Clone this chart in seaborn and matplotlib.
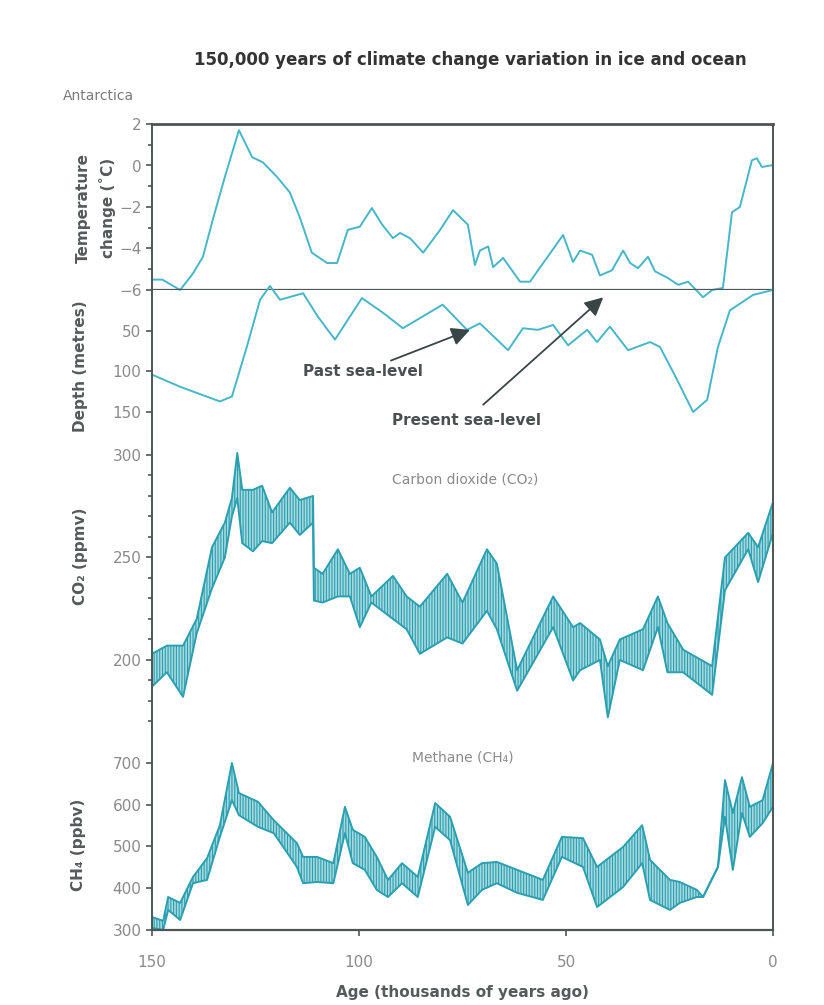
import matplotlib
matplotlib.use("Agg")
import matplotlib.pyplot as plt
import seaborn as sns
import numpy as np

# ---------------- data ----------------
temp_age = [150, 147.5, 143.2, 140.1, 137.7, 135.3, 132.4, 129.0, 125.8, 123.2, 119.8, 116.7, 114.3,
            111.4, 107.7, 105.3, 102.7, 99.8, 96.9, 94.4, 91.8, 90.1, 87.7, 84.5, 80.4, 77.3, 73.7,
            72.0, 70.8, 68.8, 67.6, 65.2, 61.1, 58.7, 50.7, 48.3, 46.6, 43.7, 41.8, 38.9, 36.2, 34.5,
            32.6, 30.2, 28.5, 25.6, 22.9, 20.5, 16.9, 14.7, 12.1, 9.9, 8.0, 5.1, 3.9, 2.7, 0]
temp_val = [-5.5, -5.5, -6.0, -5.2, -4.4, -2.6, -0.55, 1.7, 0.4, 0.15, -0.55, -1.3, -2.5,
            -4.2, -4.7, -4.7, -3.1, -2.95, -2.05, -2.85, -3.5, -3.25, -3.5, -4.2, -3.1, -2.15, -2.85,
            -4.8, -4.1, -3.9, -4.9, -4.45, -5.6, -5.6, -3.35, -4.65, -4.1, -4.3, -5.3, -5.05, -4.1, -4.7,
            -4.95, -4.4, -5.1, -5.4, -5.75, -5.6, -6.35, -6.0, -5.9, -2.25, -2.0, 0.25, 0.35, -0.07, 0.02]

sea_age = [150, 143.2, 133.6, 130.7, 127.1, 123.9, 121.5, 119.1, 113.5, 109.9, 105.8, 99.3, 94.2,
           89.4, 79.8, 73.9, 70.8, 64.0, 60.4, 56.8, 53.1, 49.5, 44.9, 42.5, 39.4, 35.0, 29.7,
           27.3, 23.2, 19.3, 15.9, 13.3, 10.4, 4.8, 0]
sea_depth = [104, 119, 137, 131, 70, 12, -5, 12, 4, 33, 61, 10, 28,
             47, 18, 49, 41, 74, 47, 49, 43, 68, 49, 64, 45, 74, 64,
             70, 110, 150, 135, 70, 25, 6, 0]

co2_age = [150, 146.4, 142.5, 139.2, 135.5, 132.4, 130.7, 129.4, 128.2, 125.6, 123.4, 121.0, 116.7,
           114.3, 111.1, 110.9, 108.8, 105.1, 102.2, 99.8, 97.0, 91.8, 88.5, 85.3, 78.7, 75.0, 69.1,
           66.7, 61.8, 53.1, 48.3, 46.6, 41.8, 39.9, 37.0, 31.4, 27.8, 25.5, 21.7, 14.7, 11.6, 6.0,
           3.6, 0]
co2_upper = [203, 207, 207, 220, 255, 267, 279, 301, 283, 283, 285, 272, 284,
             278, 280, 245, 242, 254, 242, 245, 231, 241, 231, 226, 242, 228, 254,
             247, 195, 231, 216, 218, 210, 197, 210, 215, 231, 218, 205, 197, 250, 262,
             255, 277]
co2_lower = [187, 194, 182, 213, 235, 250, 270, 279, 257, 253, 258, 257, 267,
             261, 267, 229, 228, 231, 231, 216, 228, 220, 215, 203, 211, 208, 224,
             215, 185, 216, 190, 195, 200, 172, 200, 195, 216, 194, 194, 183, 234, 254,
             238, 262]

ch4_age = [150, 147.3, 146.1, 143.2, 140.1, 136.7, 133.6, 130.7, 129.0, 124.4, 120.6, 115.0, 113.5,
           110.1, 106.2, 103.4, 101.5, 98.6, 95.7, 93.0, 89.6, 85.8, 81.6, 78.0, 73.7, 70.3, 66.7,
           61.8, 55.6, 51.0, 45.9, 42.5, 36.2, 31.6, 29.7, 24.9, 22.5, 18.4, 16.9, 13.3, 11.6, 9.7,
           7.5, 5.6, 2.5, 0]
ch4_upper = [331, 322, 379, 365, 427, 472, 551, 700, 628, 607, 563, 508, 475,
             475, 460, 595, 540, 523, 475, 420, 460, 427, 604, 571, 437, 460, 463,
             444, 420, 523, 520, 451, 499, 551, 468, 420, 415, 396, 379, 451, 659, 580,
             666, 595, 611, 700]
ch4_lower = [305, 300, 348, 324, 412, 420, 523, 611, 575, 547, 532, 451, 412,
             415, 412, 532, 460, 444, 396, 379, 412, 379, 547, 515, 360, 396, 412,
             389, 372, 475, 451, 355, 403, 460, 372, 348, 365, 379, 379, 451, 571, 444,
             580, 523, 556, 595]

x_ticks = [150, 100, 50, 0]
temp_ticks = [2, 0, -2, -4, -6]
depth_ticks = [50, 100, 150]
co2_ticks = [200, 250, 300]
ch4_ticks = [300, 400, 500, 600, 700]

# ---------------- style ----------------
sns.set_style("white")
plt.rcParams['font.family'] = ['DejaVu Sans']
plt.rcParams['hatch.linewidth'] = 0.8

LINE = '#45b7c8'
BAND_FACE = '#a6d9df'
BAND_EDGE = '#2a9fb0'
SPINE = '#4d5555'
TICKC = '#8a8a8a'
LABC = '#555a5a'

W, H = 824, 1005
fig = plt.figure(figsize=(W / 100, H / 100), dpi=100)

def box(top, bot):
    return [152 / W, (H - bot) / H, 621 / W, (bot - top) / H]

ax_t = fig.add_axes(box(124, 290))
ax_d = fig.add_axes(box(290, 440))
ax_c = fig.add_axes(box(440, 735))
ax_m = fig.add_axes(box(735, 930))
axes = [ax_t, ax_d, ax_c, ax_m]

# Temperature
sns.lineplot(x=temp_age, y=temp_val, ax=ax_t, color=LINE, lw=1.4, sort=False, clip_on=False)
ax_t.axhline(-6, color=SPINE, lw=1.6, zorder=3)

# Sea level (depth)
sns.lineplot(x=sea_age, y=sea_depth, ax=ax_d, color=LINE, lw=1.4, sort=False, clip_on=False)

# CO2 band
ax_c.fill_between(co2_age, co2_lower, co2_upper, facecolor=BAND_FACE, edgecolor=BAND_EDGE,
                  hatch='||||||', linewidth=0)
sns.lineplot(x=co2_age, y=co2_upper, ax=ax_c, color=BAND_EDGE, lw=1.4, sort=False)
sns.lineplot(x=co2_age, y=co2_lower, ax=ax_c, color=BAND_EDGE, lw=1.4, sort=False)

# CH4 band
ax_m.fill_between(ch4_age, ch4_lower, ch4_upper, facecolor=BAND_FACE, edgecolor=BAND_EDGE,
                  hatch='||||||', linewidth=0)
sns.lineplot(x=ch4_age, y=ch4_upper, ax=ax_m, color=BAND_EDGE, lw=1.4, sort=False)
sns.lineplot(x=ch4_age, y=ch4_lower, ax=ax_m, color=BAND_EDGE, lw=1.4, sort=False)

for ax in axes:
    ax.set_facecolor('none')
    ax.set_xlim(150, 0)
    for s in ['left', 'right']:
        ax.spines[s].set_visible(True)
        ax.spines[s].set_color(SPINE)
        ax.spines[s].set_linewidth(1.4)
    ax.spines['top'].set_visible(False)
    ax.spines['bottom'].set_visible(False)
    ax.tick_params(axis='y', which='both', direction='out', left=True, right=False,
                   colors=SPINE, labelcolor=TICKC, labelsize=11, length=4, width=1.2)
    ax.tick_params(axis='y', which='minor', length=3)
    ax.tick_params(axis='x', bottom=False, labelbottom=False)
    ax.set_xlabel('')
    ax.set_ylabel('')

ax_t.spines['top'].set_visible(True)
ax_t.spines['top'].set_color(SPINE)
ax_t.spines['top'].set_linewidth(2.0)
ax_m.spines['bottom'].set_visible(True)
ax_m.spines['bottom'].set_color(SPINE)
ax_m.spines['bottom'].set_linewidth(1.6)

ax_t.set_ylim(-6, 2)
ax_t.set_yticks(temp_ticks)
ax_t.set_yticks([1, -1, -3, -5], minor=True)

ax_d.set_ylim(184.4, 0)
ax_d.set_yticks(depth_ticks)

ax_c.set_ylim(163.4, 307.3)
ax_c.set_yticks(co2_ticks)
ax_c.set_yticks(np.arange(170, 310, 10), minor=True)

ax_m.set_ylim(300, 767)
ax_m.set_yticks(ch4_ticks)
ax_m.set_xticks(x_ticks)
ax_m.tick_params(axis='x', bottom=True, labelbottom=True, direction='out', length=4,
                 width=1.2, colors=SPINE, labelcolor=TICKC, labelsize=11, pad=14)

# panel titles inside
ax_c.text(74.4, 288, 'Carbon dioxide (CO\u2082)', ha='center', va='center',
          fontsize=10, color='#8a8a8a')
ax_m.text(75, 712, 'Methane (CH\u2084)', ha='center', va='center',
          fontsize=10, color='#8a8a8a')

# arrows
arrow_kw = dict(arrowstyle='-|>', color='#3a4545', lw=1.3, mutation_scale=28, shrinkA=0, shrinkB=0)
ax_d.annotate('Past sea-level', xy=(73.2, 49), xytext=(84.5, 100), ha='right', va='center',
              fontsize=11, fontweight='bold', color='#4a5050', arrowprops=arrow_kw,
              annotation_clip=False)
ax_d.annotate('', xy=(41, 9), xytext=(70, 141), arrowprops=arrow_kw, annotation_clip=False)
ax_d.text(74, 160, 'Present sea-level', ha='center', va='center', fontsize=11,
          fontweight='bold', color='#4a5050')

# figure-level texts
def ft(x, y, s, **kw):
    fig.text(x / W, 1 - y / H, s, **kw)

ft(470, 60, '150,000 years of climate change variation in ice and ocean', ha='center', va='center',
   fontsize=12, fontweight='bold', color='#333333')
ft(98, 96, 'Antarctica', ha='center', va='center', fontsize=10, color='#7a7a7a')
ft(83, 208, 'Temperature', ha='center', va='center', rotation=90, fontsize=11,
   fontweight='bold', color=LABC)
ft(108, 208, 'change (\u02daC)', ha='center', va='center', rotation=90, fontsize=11,
   fontweight='bold', color=LABC)
ft(80, 366, 'Depth (metres)', ha='center', va='center', rotation=90, fontsize=11,
   fontweight='bold', color=LABC)
ft(80, 556, 'CO\u2082 (ppmv)', ha='center', va='center', rotation=90, fontsize=11,
   fontweight='bold', color=LABC)
ft(78, 845, 'CH\u2084 (ppbv)', ha='center', va='center', rotation=90, fontsize=11,
   fontweight='bold', color=LABC)
ft(462, 992, 'Age (thousands of years ago)', ha='center', va='center', fontsize=11,
   fontweight='bold', color=LABC)

fig.savefig('out.png', dpi=100, facecolor='white')
